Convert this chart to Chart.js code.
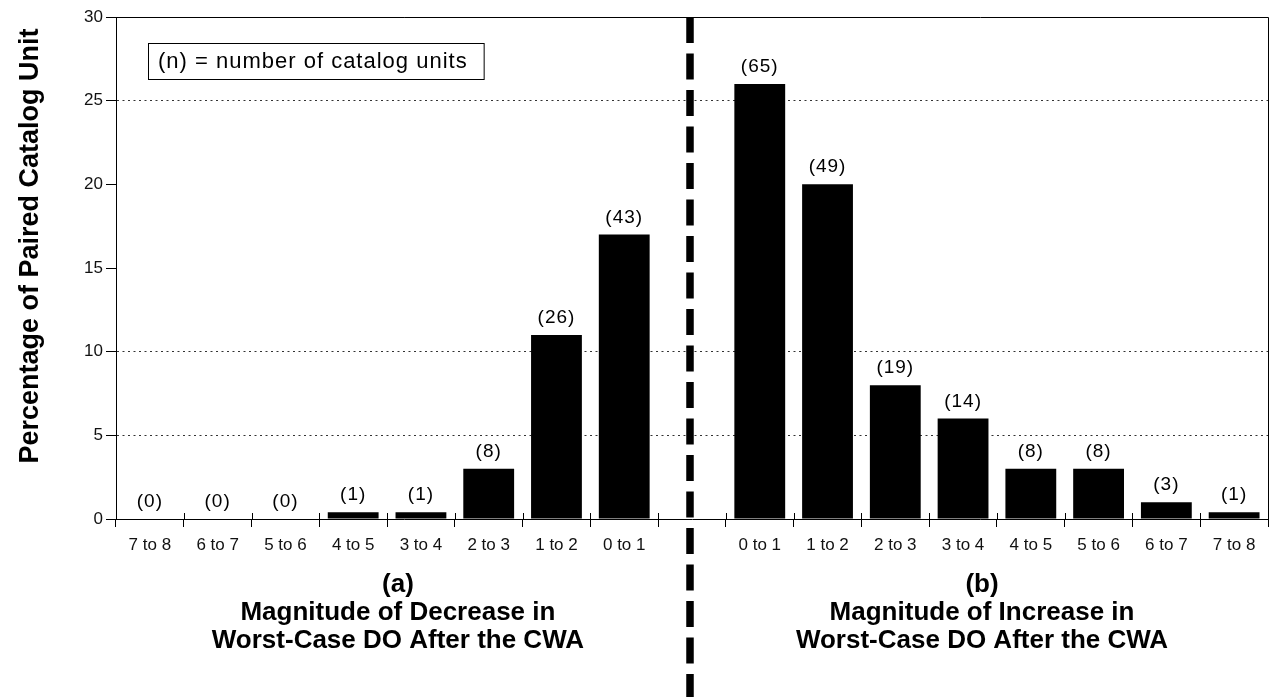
<!DOCTYPE html>
<html>
<head>
<meta charset="utf-8">
<script src="https://cdn.jsdelivr.net/npm/chart.js@4.4.1/dist/chart.umd.min.js"></script>
<style>
  html, body { margin: 0; padding: 0; background: #fff; }
  #wrap { width: 1270px; height: 697px; }
</style>
</head>
<body>
<div id="wrap"><canvas id="chart" width="1270" height="697"></canvas></div>
<script>
// DO change bins; decrease side runs from largest change to smallest
const decreaseBins = ['7 to 8', '6 to 7', '5 to 6', '4 to 5', '3 to 4', '2 to 3', '1 to 2', '0 to 1'];
const increaseBins = ['0 to 1', '1 to 2', '2 to 3', '3 to 4', '4 to 5', '5 to 6', '6 to 7', '7 to 8'];

// percentage of paired catalog units in each bin
const decreasePct = [0, 0, 0, 0.4, 0.4, 3, 11, 17];
const increasePct = [26, 20, 8, 6, 3, 3, 1, 0.4];

// number of catalog units in each bin
const decreaseN = [0, 0, 0, 1, 1, 8, 26, 43];
const increaseN = [65, 49, 19, 14, 8, 8, 3, 1];

const yTicks = [0, 5, 10, 15, 20, 25, 30];
const dottedLevels = [5, 10, 25];

const yTitle = 'Percentage of Paired Catalog Unit';
const panelTitles = [
  ['(a)', 'Magnitude of Decrease in', 'Worst-Case DO After the CWA'],
  ['(b)', 'Magnitude of Increase in', 'Worst-Case DO After the CWA']
];
const noteText = '(n) = number of catalog units';

// one empty slot between the two panels
const labels = decreaseBins.concat([''], increaseBins);
const values = decreasePct.concat([null], increasePct);
const counts = decreaseN.concat([null], increaseN);

const tickFont = { family: '"Liberation Sans", Arial, sans-serif', size: 17 };

const annotate = {
  id: 'annotate',
  afterDatasetsDraw(chart) {
    const ctx = chart.ctx;
    const meta = chart.getDatasetMeta(0);
    ctx.save();
    ctx.font = '19px "Liberation Sans", Arial, sans-serif';
    ctx.letterSpacing = '1px';
    ctx.fillStyle = '#000';
    ctx.textAlign = 'center';
    ctx.textBaseline = 'alphabetic';
    meta.data.forEach((bar, i) => {
      if (counts[i] == null) return;
      ctx.fillText('(' + counts[i] + ')', bar.x, bar.y - 12);
    });
    ctx.restore();
  },
  afterDraw(chart) {
    const { ctx, chartArea: a, scales: { x } } = chart;
    ctx.save();

    // frame on top and right
    ctx.strokeStyle = '#000';
    ctx.lineWidth = 1;
    ctx.beginPath();
    ctx.moveTo(a.left, a.top + 0.5);
    ctx.lineTo(a.right + 0.5, a.top + 0.5);
    ctx.lineTo(a.right + 0.5, a.bottom);
    ctx.stroke();

    // short upward stubs of the category boundary ticks
    ctx.beginPath();
    for (let i = 0; i <= labels.length; i++) {
      const px = Math.round(x.getPixelForValue(i - 0.5)) + 0.5;
      ctx.moveTo(px, a.bottom);
      ctx.lineTo(px, a.bottom - 6);
    }
    ctx.stroke();

    // note box
    ctx.font = '22px "Liberation Sans", Arial, sans-serif';
    ctx.letterSpacing = '1px';
    ctx.textBaseline = 'middle';
    ctx.textAlign = 'left';
    const w = ctx.measureText(noteText).width;
    ctx.fillStyle = '#fff';
    ctx.fillRect(148, 43, w + 26, 36);
    ctx.strokeRect(148.5, 43.5, w + 26, 36);
    ctx.fillStyle = '#000';
    ctx.fillText(noteText, 158, 62);
    ctx.letterSpacing = '0px';

    // y axis title
    ctx.font = 'bold 27px "Liberation Sans", Arial, sans-serif';
    ctx.textAlign = 'center';
    ctx.textBaseline = 'middle';
    ctx.save();
    ctx.translate(31, 246);
    ctx.rotate(-Math.PI / 2);
    ctx.fillText(yTitle, 0, 0);
    ctx.restore();

    // panel titles under each half
    ctx.font = 'bold 26px "Liberation Sans", Arial, sans-serif';
    ctx.textBaseline = 'alphabetic';
    const centers = [x.getPixelForValue(3.66), x.getPixelForValue(12.28)];
    panelTitles.forEach((lines, k) => {
      lines.forEach((t, j) => ctx.fillText(t, centers[k], 592 + j * 28));
    });

    // heavy dashed divider between the panels
    ctx.strokeStyle = '#000';
    ctx.lineWidth = 7.5;
    ctx.setLineDash([26, 10.5]);
    ctx.beginPath();
    const dx = x.getPixelForValue(8) - 2;
    ctx.moveTo(dx, a.top);
    ctx.lineTo(dx, chart.height);
    ctx.stroke();

    ctx.restore();
  }
};

new Chart(document.getElementById('chart'), {
  type: 'bar',
  data: {
    labels: labels,
    datasets: [{
      data: values,
      backgroundColor: '#000',
      borderWidth: 0,
      barPercentage: 0.75,
      categoryPercentage: 1.0
    }]
  },
  options: {
    responsive: false,
    animation: false,
    devicePixelRatio: 1,
    layout: { padding: { top: 17, right: 2, left: 0, bottom: 0 } },
    plugins: { legend: { display: false }, tooltip: { enabled: false } },
    scales: {
      x: {
        grid: {
          offset: true,
          drawOnChartArea: false,
          tickLength: 8,
          color: '#000'
        },
        border: { color: '#000', width: 1 },
        ticks: { font: tickFont, color: '#111', padding: 8, maxRotation: 0, autoSkip: false },
        afterFit(scale) { scale.height = 178; }
      },
      y: {
        min: 0,
        max: 30,
        afterBuildTicks(scale) { scale.ticks = yTicks.map(v => ({ value: v })); },
        grid: {
          color: c => dottedLevels.includes(c.tick.value) ? '#333' : 'rgba(0,0,0,0)',
          tickColor: '#000',
          tickLength: 10
        },
        border: { color: '#000', width: 1, dash: [2, 3.5] },
        ticks: { font: tickFont, color: '#111', padding: 3 },
        afterFit(scale) { scale.width = 116; }
      }
    }
  },
  plugins: [annotate]
});
</script>
</body>
</html>
